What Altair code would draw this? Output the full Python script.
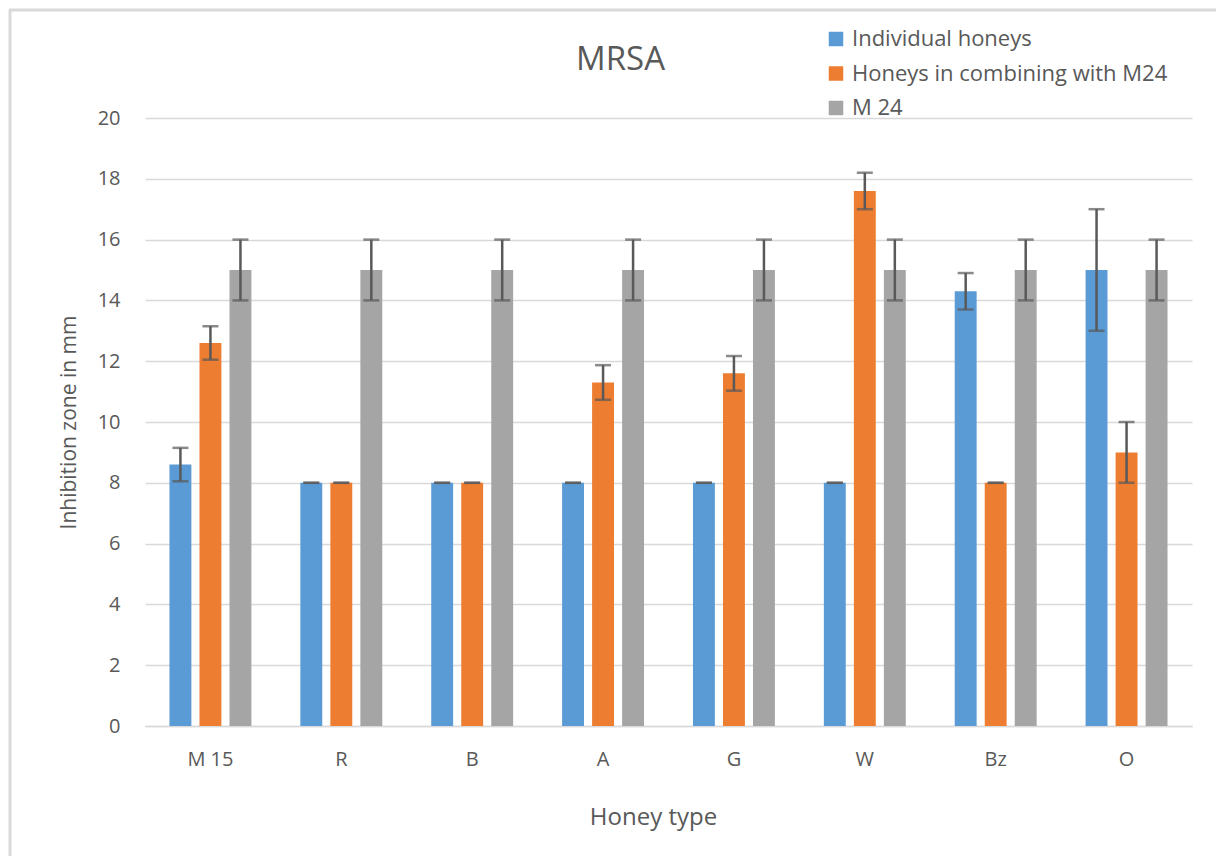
import altair as alt
import pandas as pd

categories = ["M 15", "R", "B", "A", "G", "W", "Bz", "O"]
series_names = ["Individual honeys", "Honeys in combining with M24", "\u00a0M 24"]

individual = [8.6, 8, 8, 8, 8, 8, 14.3, 15]
individual_err = [0.55, 0, 0, 0, 0, 0, 0.6, 2]
combined = [12.6, 8, 8, 11.3, 11.6, 17.6, 8, 9]
combined_err = [0.55, 0, 0, 0.57, 0.57, 0.6, 0, 1]
m24 = [15, 15, 15, 15, 15, 15, 15, 15]
m24_err = [1, 1, 1, 1, 1, 1, 1, 1]

colors = ["#5B9BD5", "#ED7D31", "#A5A5A5"]

rows = []
for name, vals, errs in zip(series_names, [individual, combined, m24],
                            [individual_err, combined_err, m24_err]):
    for c, v, e in zip(categories, vals, errs):
        rows.append({"category": c, "series": name, "value": v,
                     "lo": v - e, "hi": v + e})
df = pd.DataFrame(rows)

FONT = "Open Sans"
GRAY = "#595959"

x_enc = alt.X("category:N", sort=categories,
              scale=alt.Scale(paddingInner=0.374, paddingOuter=0.187),
              axis=alt.Axis(title="Honey type", labelAngle=0, ticks=False,
                            domainColor="#d9d9d9", domainWidth=1.5,
                            labelPadding=23, titlePadding=36,
                            labelFontSize=20, titleFontSize=24,
                            labelColor=GRAY, titleColor=GRAY,
                            labelFont=FONT, titleFont=FONT,
                            titleFontWeight="normal", titleX=508))
xo_enc = alt.XOffset("series:N", sort=series_names,
                     scale=alt.Scale(paddingInner=0.27, paddingOuter=0))

base = alt.Chart(df)

bars = base.mark_bar().encode(
    x=x_enc,
    xOffset=xo_enc,
    y=alt.Y("value:Q", scale=alt.Scale(domain=[0, 20]),
            axis=alt.Axis(title="Inhibition zone in mm", values=list(range(0, 21, 2)),
                          ticks=False, domain=False, grid=True,
                          gridColor="#d9d9d9", gridWidth=1.5,
                          labelPadding=25, titlePadding=18,
                          labelFontSize=20, titleFontSize=21,
                          labelColor=GRAY, titleColor=GRAY,
                          labelFont=FONT, titleFont=FONT,
                          titleFontWeight="normal")),
    color=alt.Color("series:N", sort=series_names,
                    scale=alt.Scale(domain=series_names, range=colors),
                    legend=alt.Legend(title=None, orient="none",
                                      legendX=680, legendY=-90,
                                      symbolType="square", symbolSize=210,
                                      symbolStrokeWidth=0, labelLimit=0,
                                      labelFontSize=22, labelColor=GRAY,
                                      labelFont=FONT, rowPadding=12.5,
                                      labelOffset=5)),
)

rules = base.mark_rule(color=GRAY, strokeWidth=2.5).encode(
    x=alt.X("category:N", sort=categories),
    xOffset=xo_enc,
    y="lo:Q",
    y2="hi:Q",
)

caps_lo = base.mark_tick(color=GRAY, thickness=2.5, size=16).encode(
    x=alt.X("category:N", sort=categories),
    xOffset=xo_enc,
    y="lo:Q",
)
caps_hi = base.mark_tick(color=GRAY, thickness=2.5, size=16).encode(
    x=alt.X("category:N", sort=categories),
    xOffset=xo_enc,
    y="hi:Q",
)

frame_data = alt.Chart(pd.DataFrame({"k": [0]}))
frame_left = frame_data.mark_rule(color="#d9d9d9", strokeWidth=3).encode(
    x=alt.value(-135), y=alt.value(-108), y2=alt.value(760))
frame_top = frame_data.mark_rule(color="#d9d9d9", strokeWidth=3).encode(
    x=alt.value(-136), x2=alt.value(1090), y=alt.value(-108))

chart = alt.layer(frame_left, frame_top, bars, rules, caps_lo, caps_hi).properties(
    width=1047, height=608,
    title=alt.TitleParams("MRSA", fontSize=33, font=FONT, color=GRAY,
                          fontWeight="normal", offset=42, dx=-48, dy=110,
                          anchor="middle"),
    autosize=alt.AutoSizeParams(type="none"),
    padding={"left": 137, "top": 110, "right": 24, "bottom": 130},
).configure(background="white").configure_view(stroke="transparent", strokeWidth=0)

chart.save("out.html", embed_options={"renderer": "svg", "actions": False})
